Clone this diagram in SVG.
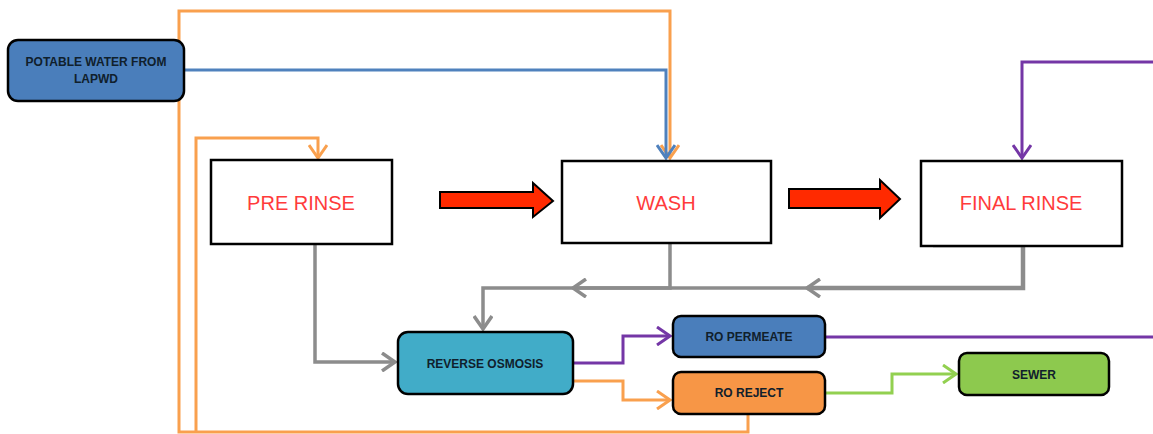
<svg xmlns="http://www.w3.org/2000/svg" width="1153" height="434" viewBox="0 0 1153 434">
<style>
.proc{fill:#fff;stroke:#000;stroke-width:2.5}
.ptxt{font-family:"Liberation Sans",Arial,sans-serif;font-size:20px;fill:#ff3b3b;text-anchor:middle}
.rbox{stroke:#000;stroke-width:2.5}
.rtxt{font-family:"Liberation Sans",Arial,sans-serif;font-size:12px;font-weight:bold;fill:#10202c;text-anchor:middle}
.ln{fill:none;stroke-linejoin:miter}
.gray{stroke:#8c8c8c;stroke-width:3.5}
.org{stroke:#f9a04e;stroke-width:3}
.pur{stroke:#7436a6;stroke-width:3}
.blu{stroke:#4f81bd;stroke-width:3}
.grn{stroke:#92d050;stroke-width:3}
.big{fill:#ff2a00;stroke:#000;stroke-width:2}
</style>
<defs>
<marker id="mg" markerUnits="userSpaceOnUse" viewBox="0 0 16 20" refX="14" refY="10" markerWidth="16" markerHeight="20" orient="auto"><path d="M1,1 L14,10 L1,19" fill="none" stroke="#8c8c8c" stroke-width="3.5"/></marker>
<marker id="mo" markerUnits="userSpaceOnUse" viewBox="0 0 16 20" refX="14" refY="10" markerWidth="16" markerHeight="20" orient="auto"><path d="M1,1 L14,10 L1,19" fill="none" stroke="#f9a04e" stroke-width="3"/></marker>
<marker id="mp" markerUnits="userSpaceOnUse" viewBox="0 0 16 20" refX="14" refY="10" markerWidth="16" markerHeight="20" orient="auto"><path d="M1,1 L14,10 L1,19" fill="none" stroke="#7436a6" stroke-width="3"/></marker>
<marker id="mb" markerUnits="userSpaceOnUse" viewBox="0 0 16 20" refX="14" refY="10" markerWidth="16" markerHeight="20" orient="auto"><path d="M1,1 L14,10 L1,19" fill="none" stroke="#4f81bd" stroke-width="3"/></marker>
<marker id="mn" markerUnits="userSpaceOnUse" viewBox="0 0 16 20" refX="14" refY="10" markerWidth="16" markerHeight="20" orient="auto"><path d="M1,1 L14,10 L1,19" fill="none" stroke="#92d050" stroke-width="3"/></marker>
</defs>
<rect width="1153" height="434" fill="#fff"/>
<g id="connectors">
<path class="ln org" d="M748,414 V432 H179 V11 H670 V158" marker-end="url(#mo)"/>
<path class="ln org" d="M196,432 V138 H318 V158" marker-end="url(#mo)"/>
<path class="ln blu" d="M184,70 H666 V158" marker-end="url(#mb)"/>
<path class="ln pur" d="M1153,62 H1022 V158" marker-end="url(#mp)"/>
<path class="ln pur" d="M825,337 H1153"/>
<path class="ln gray" d="M315,244 V362 H395" marker-end="url(#mg)"/>
<path class="ln gray" style="stroke-width:4.5" d="M933,245 H1023 V288 H807" marker-end="url(#mg)"/>
<path class="ln gray" d="M807,288 H573"/>
<path class="ln gray" d="M670,243 V288 H573" marker-end="url(#mg)"/>
<path class="ln gray" d="M573,288 H483 V329" marker-end="url(#mg)"/>
<path class="ln pur" d="M574,363 H623 V336 H670" marker-end="url(#mp)"/>
<path class="ln org" d="M568,381 H623 V400 H670" marker-end="url(#mo)"/>
<path class="ln grn" d="M825,393 H892 V374 H956" marker-end="url(#mn)"/>
<path class="big" d="M440,192 H533 V183 L553,201 L533,217 V208 H440 Z"/>
<path class="big" d="M789,189 H880 V180 L900,199 L880,218 V208 H789 Z"/>
</g>
<g id="potable">
<rect class="rbox" x="8" y="40" width="176" height="61" rx="10" fill="#4a7ebb"/>
<text class="rtxt" x="96" y="66">POTABLE WATER FROM</text>
<text class="rtxt" x="96" y="83">LAPWD</text>
</g>
<g id="prerinse">
<rect class="proc" x="211" y="160" width="181" height="84"/>
<text class="ptxt" x="301" y="210">PRE RINSE</text>
</g>
<g id="wash">
<rect class="proc" x="562" y="161" width="209" height="82"/>
<text class="ptxt" x="666" y="210">WASH</text>
</g>
<g id="finalrinse">
<rect class="proc" x="921" y="161" width="201" height="85"/>
<text class="ptxt" x="1021" y="210">FINAL RINSE</text>
</g>
<g id="ro">
<rect class="rbox" x="398" y="332" width="175" height="62" rx="10" fill="#41acc8"/>
<text class="rtxt" x="485" y="368">REVERSE OSMOSIS</text>
</g>
<g id="permeate">
<rect class="rbox" x="673" y="316" width="152" height="41" rx="8" fill="#4a7ebb"/>
<text class="rtxt" x="749" y="341">RO PERMEATE</text>
</g>
<g id="reject">
<rect class="rbox" x="673" y="372" width="152" height="42" rx="8" fill="#f79646"/>
<text class="rtxt" x="749" y="397">RO REJECT</text>
</g>
<g id="sewer">
<rect class="rbox" x="959" y="353" width="150" height="42" rx="8" fill="#8dc94e"/>
<text class="rtxt" x="1034" y="379">SEWER</text>
</g>
</svg>
